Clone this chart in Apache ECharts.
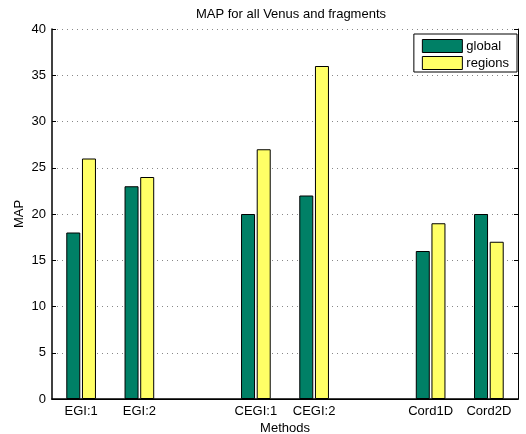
<!DOCTYPE html>
<html><head><meta charset="utf-8">
<script src="https://cdn.jsdelivr.net/npm/echarts@6/dist/echarts.min.js"></script>
<style>html,body{margin:0;padding:0;background:#fff}#c{width:526px;height:434px}</style>
</head><body><div id="c"></div>
<script>
var categories = ['EGI:1','EGI:2','','CEGI:1','CEGI:2','','Cord1D','Cord2D'];
var globalVals = [18, 23, null, 20, 22, null, 16, 20];
var regionVals = [26, 24, null, 27, 36, null, 19, 17];
var yTicks = {min: 0, max: 40, interval: 5};

var FONT = 'Liberation Sans';
var FS = 13;
var tickFn = function (idx, val) { return val !== ''; };
var chart = echarts.init(document.getElementById('c'), null, {renderer: 'canvas'});
chart.setOption({
  animation: false,
  backgroundColor: '#fff',
  title: {text: 'MAP for all Venus and fragments', left: 286, top: 3, textAlign: 'center',
    textStyle: {fontFamily: FONT, fontSize: FS, fontWeight: 'normal', color: '#000'}},
  legend: {
    orient: 'vertical', right: 9, top: 34, icon: 'rect', itemWidth: 40, itemHeight: 13, itemGap: 3,
    padding: [5, 8, 2, 8], borderColor: '#000', borderWidth: 1, backgroundColor: '#fff',
    textStyle: {fontFamily: FONT, fontSize: FS, lineHeight: 13, color: '#000', padding: [0, 0, 0, -1]},
    data: [{name: 'global', itemStyle: {color: '#008066', borderColor: '#000', borderWidth: 1}},
           {name: 'regions', itemStyle: {color: '#ffff66', borderColor: '#000', borderWidth: 1}}]
  },
  grid: {left: 52, right: 8, top: 29, bottom: 35, containLabel: false, outerBoundsMode: 'none'},
  xAxis: [{
    type: 'category', data: categories, position: 'bottom',
    name: 'Methods', nameLocation: 'middle', nameGap: 23, nameMoveOverlap: false,
    nameTextStyle: {fontFamily: FONT, fontSize: FS, color: '#000'},
    axisLine: {lineStyle: {color: '#000', width: 1.5}},
    axisTick: {inside: true, alignWithLabel: true, interval: tickFn, length: 4, lineStyle: {color: '#000'}},
    axisLabel: {interval: 0, fontFamily: FONT, fontSize: FS, color: '#000', margin: 6},
    splitLine: {show: false}
  }, {
    type: 'category', data: categories, position: 'top',
    axisLine: {lineStyle: {color: '#000', width: 1}},
    axisTick: {inside: true, alignWithLabel: true, interval: tickFn, length: 4, lineStyle: {color: '#000'}},
    axisLabel: {show: false}, splitLine: {show: false}
  }],
  yAxis: [{
    type: 'value', min: yTicks.min, max: yTicks.max, interval: yTicks.interval, position: 'left',
    name: 'MAP', nameLocation: 'middle', nameGap: 26, nameRotate: 90, nameMoveOverlap: false,
    nameTextStyle: {fontFamily: FONT, fontSize: FS, color: '#000'},
    axisLine: {show: true, lineStyle: {color: '#000', width: 1.5}},
    axisTick: {show: true, inside: true, length: 4, lineStyle: {color: '#000'}},
    axisLabel: {fontFamily: FONT, fontSize: FS, color: '#000', margin: 6},
    splitLine: {show: true, lineStyle: {color: '#888', type: [1, 4], width: 1}}
  }, {
    type: 'value', min: yTicks.min, max: yTicks.max, interval: yTicks.interval, position: 'right',
    axisLine: {show: true, lineStyle: {color: '#000', width: 1}},
    axisTick: {show: true, inside: true, length: 4, lineStyle: {color: '#000'}},
    axisLabel: {show: false}, splitLine: {show: false}
  }],
  series: [{
    name: 'global', type: 'bar', data: globalVals, barWidth: 14, barGap: '12%',
    itemStyle: {color: '#008066', borderColor: '#000', borderWidth: 1}
  }, {
    name: 'regions', type: 'bar', data: regionVals, barWidth: 14, barGap: '12%',
    itemStyle: {color: '#ffff66', borderColor: '#000', borderWidth: 1}
  }]
});
</script></body></html>
